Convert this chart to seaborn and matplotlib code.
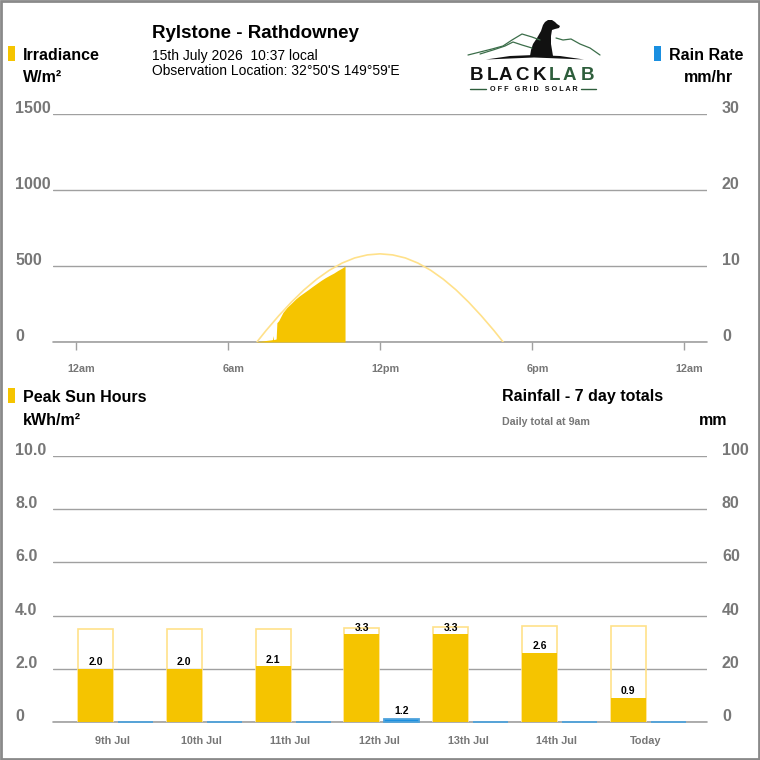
import numpy as np
import pandas as pd
import matplotlib
matplotlib.use("Agg")
import matplotlib.pyplot as plt
import seaborn as sns
from matplotlib.transforms import blended_transform_factory, ScaledTranslation
from matplotlib.patches import Rectangle, Polygon

# --- irradiance today (hours, W/m2) ---
clear_hours = [7.14, 7.5, 8.0, 8.5, 9.0, 9.5, 10.0, 10.5, 11.0, 11.5, 12.0,
               12.5, 13.0, 13.5, 14.0, 14.5, 15.0, 15.5, 16.0, 16.5, 16.86]
clear_wm2 = [0, 75, 172, 262, 343, 413, 472, 519, 553, 573, 580,
             573, 553, 519, 472, 413, 343, 262, 172, 75, 0]
meas_hours = [7.10, 7.20, 7.30, 7.40, 7.50, 7.60, 7.70, 7.76, 7.78, 7.80, 7.82, 7.90,
              7.93, 8.00, 8.17, 8.33, 8.50, 8.67, 8.83, 9.00, 9.17, 9.33, 9.50,
              9.67, 9.83, 10.00, 10.17, 10.33, 10.50, 10.62]
meas_wm2 = [0, 4, 6, 8, 10, 12, 14, 16, 42, 16, 16, 20,
            127, 140, 195, 228, 255, 283, 305, 325, 345, 365, 385,
            405, 422, 438, 453, 470, 486, 500]

# --- 7 day totals ---
days = ["9th Jul", "10th Jul", "11th Jul", "12th Jul", "13th Jul", "14th Jul", "Today"]
sun_potential = [3.50, 3.50, 3.51, 3.52, 3.58, 3.60, 3.61]
sun_hours = [2.0, 2.0, 2.1, 3.3, 3.3, 2.6, 0.9]
rain_mm = [0, 0, 0, 1.2, 0, 0, 0]

YELLOW = "#F5C400"
PALE = "#FFE18A"
BLUE = "#1A8FE0"
GRID = "#A0A0A0"
LBL = "#777777"
GREEN = "#2E5E3C"

sns.set_theme(style="white")
plt.rcParams["font.family"] = ["Liberation Sans", "DejaVu Sans"]
plt.rcParams["text.color"] = "black"

fig = plt.figure(figsize=(7.6, 7.6), dpi=100)


def fx(x):
    return x / 760


def fy(y):
    return 1 - y / 760


def style_axes(a):
    for s in a.spines.values():
        s.set_visible(False)
    a.set_xlabel("")
    a.set_ylabel("")
    a.set_yticklabels([])
    a.tick_params(axis="y", length=0)


def ylabels(a, ticks, xpix, fmt):
    tr = blended_transform_factory(fig.transFigure, a.transData) + \
        ScaledTranslation(0, 1 / 100, fig.dpi_scale_trans)
    for t in ticks:
        a.text(fx(xpix), t, fmt.format(t), transform=tr, ha="left", va="baseline",
               fontsize=11.5, weight="bold", color=LBL)


# ================= top: irradiance =================
ax1 = fig.add_axes([fx(53), fy(342), fx(707) - fx(53), fy(114) - fy(342)])
ax1r = ax1.twinx()

ax1.fill_between(meas_hours, meas_wm2, 0, color=YELLOW, lw=0, zorder=3)
sns.lineplot(x=clear_hours, y=clear_wm2, ax=ax1, color=PALE, lw=1.2, zorder=4)

ax1.set_xlim(-0.908, 24.908)
ax1.set_ylim(0, 1500)
ax1.set_yticks([0, 500, 1000, 1500])
ax1.grid(axis="y", color=GRID, lw=1)
ax1.grid(axis="x", visible=False)
ax1.axhline(0, color=GRID, lw=1.2, clip_on=False, zorder=2)
ax1.set_axisbelow(True)
ax1r.set_ylim(0, 30)
ax1r.set_yticks([0, 10, 20, 30])
style_axes(ax1)
style_axes(ax1r)
ax1.set_xticks([0, 6, 12, 18, 24])
ax1.set_xticklabels([])
ax1.tick_params(axis="x", bottom=True, length=6, width=1, color=GRID, direction="out")
ylabels(ax1, [0, 500, 1000, 1500], 15, "{}")
ylabels(ax1r, [0, 10, 20, 30], 722, "{}")
trx = blended_transform_factory(ax1.transData, fig.transFigure) + \
    ScaledTranslation(5.5 / 100, 0, fig.dpi_scale_trans)
for h, s in zip([0, 6, 12, 18, 24], ["12am", "6am", "12pm", "6pm", "12am"]):
    ax1.text(h, fy(369), s, transform=trx, ha="center", va="center",
             fontsize=7.8, weight="bold", color=LBL)

# ================= bottom: 7 day totals =================
ax2 = fig.add_axes([fx(53), fy(722), fx(707) - fx(53), fy(456) - fy(722)])
ax2r = ax2.twinx()
pos = np.arange(len(days))
sun_x = pos - 0.225
rain_x = pos + 0.225

sns.barplot(x=sun_x, y=sun_potential, native_scale=True, width=0.394, fill=False,
            color=PALE, linewidth=1.2, errorbar=None, ax=ax2, zorder=3)
sns.barplot(x=sun_x, y=sun_hours, native_scale=True, width=0.394, color=YELLOW,
            saturation=1, linewidth=0, errorbar=None, ax=ax2, zorder=4)
sns.barplot(x=rain_x, y=rain_mm, native_scale=True, width=0.394, color=BLUE,
            saturation=1, edgecolor="#4FA3DC", linewidth=1.3, errorbar=None, ax=ax2r, zorder=4)
for p in ax2r.patches:
    p.set_clip_on(False)

for x, v in zip(sun_x, sun_hours):
    ax2.text(x, v + 0.06, f"{v:.1f}", ha="center", va="bottom", fontsize=7.5,
             weight="bold", color="black", zorder=6)
for x, v in zip(rain_x, rain_mm):
    if v > 0:
        ax2r.text(x, v + 0.9, f"{v:.1f}", ha="center", va="bottom", fontsize=7.5,
                  weight="bold", color="black", zorder=6)

ax2.set_xlim(-0.704, 6.661)
ax2.set_ylim(0, 10)
ax2.set_yticks([0, 2, 4, 6, 8, 10])
ax2.grid(axis="y", color=GRID, lw=1)
ax2.grid(axis="x", visible=False)
ax2.axhline(0, color=GRID, lw=1.2, clip_on=False, zorder=2)
ax2.set_axisbelow(True)
ax2r.set_ylim(0, 100)
ax2r.set_yticks([0, 20, 40, 60, 80, 100])
style_axes(ax2)
style_axes(ax2r)
ax2.set_xticks([])
ylabels(ax2, [0, 2, 4, 6, 8, 10], 15, "{:.1f}")
ax2.texts[-6].set_text("0")
ylabels(ax2r, [0, 20, 40, 60, 80, 100], 722, "{}")
trx2 = blended_transform_factory(ax2.transData, fig.transFigure)
for p, d in zip(pos, days):
    ax2.text(p - 0.03, fy(741), d, transform=trx2, ha="center", va="center",
             fontsize=7.8, weight="bold", color=LBL)

# ================= header texts =================
def ftext(x, y, s, **kw):
    fig.text(fx(x), fy(y), s, va="center", **kw)


def swatch(x, y, c):
    fig.patches.append(Rectangle((fx(x), fy(y + 15)), 7 / 760, 15 / 760,
                                 transform=fig.transFigure, color=c, lw=0))


swatch(8, 46, YELLOW)
ftext(23, 55, "Irradiance", fontsize=11.5, weight="bold")
ftext(23, 78, "W/m²", fontsize=11.5, weight="bold")
swatch(654, 46, BLUE)
ftext(669, 55, "Rain Rate", fontsize=11.5, weight="bold")
ftext(684, 78, "mm/hr", fontsize=11.5, weight="bold")

ftext(152, 33, "Rylstone - Rathdowney", fontsize=13.5, weight="bold")
ftext(152, 56, "15th July 2026  10:37 local", fontsize=10)
ftext(152, 71, "Observation Location: 32°50'S 149°59'E", fontsize=10)

swatch(8, 388, YELLOW)
ftext(23, 397, "Peak Sun Hours", fontsize=11.5, weight="bold")
ftext(23, 420, "kWh/m²", fontsize=11.5, weight="bold")
ftext(502, 397, "Rainfall - 7 day totals", fontsize=11.5, weight="bold")
ftext(502, 422, "Daily total at 9am", fontsize=7.7, weight="bold", color=LBL)
ftext(699, 420, "mm", fontsize=11.5, weight="bold")

# ================= logo =================
letter_x = [476.5, 492.5, 505, 521.5, 539, 554.5, 569, 588]
for i, (ch, lx) in enumerate(zip("BLACKLAB", letter_x)):
    fig.text(fx(lx), fy(76), ch, ha="center", va="center", fontsize=13.5,
             weight="bold", color="#111111" if i < 5 else GREEN)
fig.text(fx(533.5), fy(89.5), "O F F   G R I D   S O L A R", ha="center", va="center",
         fontsize=5.2, weight="bold", color="#111111")
for x0, x1 in [(470, 486), (581, 596)]:
    fig.lines.append(plt.Line2D([fx(x0), fx(x1)], [fy(89), fy(89)], lw=1,
                                color=GREEN, transform=fig.transFigure))
mx = [468, 480, 492, 503, 512, 522, 532, 540]
my = [55, 52, 49, 46, 40, 34, 37, 40]
fig.lines.append(plt.Line2D([fx(v) for v in mx], [fy(v) for v in my], lw=0.9,
                            color="#3C6E4A", transform=fig.transFigure))
mx2 = [480, 493, 505, 513, 522, 532]
my2 = [54, 50, 46, 42, 45, 48]
fig.lines.append(plt.Line2D([fx(v) for v in mx2], [fy(v) for v in my2], lw=0.9,
                            color="#3C6E4A", transform=fig.transFigure))
mx3 = [556, 563, 571, 580, 590, 600]
my3 = [38, 40, 39, 44, 48, 55]
fig.lines.append(plt.Line2D([fx(v) for v in mx3], [fy(v) for v in my3], lw=0.9,
                            color="#3C6E4A", transform=fig.transFigure))
ground = [(486, 59.5), (510, 56), (534, 55), (560, 56), (584, 59.5), (534, 57.5)]
fig.patches.append(Polygon([(fx(a), fy(b)) for a, b in ground], closed=True,
                           transform=fig.transFigure, color="#111111", lw=0))
dog = [(530, 56), (531, 50), (533, 44), (537, 38), (541, 31), (543, 25), (545, 22),
       (548, 20), (552, 20), (555, 22), (557, 24), (560, 26), (559, 28), (555, 29),
       (552, 30), (551, 36), (551, 44), (552, 50), (553, 56)]
fig.patches.append(Polygon([(fx(a), fy(b)) for a, b in dog], closed=True,
                           transform=fig.transFigure, color="#111111", lw=0))

# frame
fig.patches.append(Rectangle((0.001, 0.001), 0.998, 0.998, transform=fig.transFigure,
                             fill=False, edgecolor="#8A8A8A", lw=2))

fig.savefig("out.png", dpi=100)
